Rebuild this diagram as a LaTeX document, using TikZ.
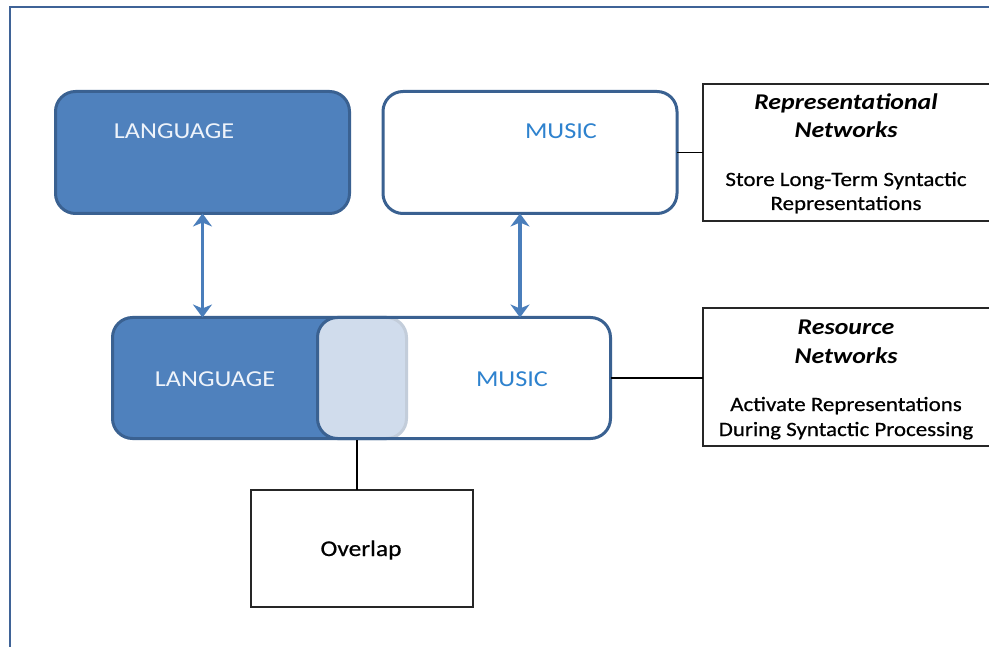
\documentclass[tikz,border=0pt]{standalone}
\usepackage{fontspec}
\setmainfont{Carlito}[FakeStretch=1.15]
\newfontfamily\notefont{Carlito}[FakeStretch=1.13, FakeBold=0.6]
\usetikzlibrary{arrows.meta,calc}

\definecolor{langfill}{HTML}{4F81BD}
\definecolor{boxedge}{HTML}{3A6191}
\definecolor{arrowblue}{HTML}{4A7EBB}
\definecolor{musictext}{HTML}{2E82CE}
\definecolor{langtext}{HTML}{EEF3FA}
\definecolor{overlapfill}{HTML}{D0DCEC}
\definecolor{seamline}{HTML}{C3CDDA}
\definecolor{framecol}{HTML}{3F6397}

\tikzset{
  netbox/.style={draw=boxedge, line width=3pt, rounded corners=20pt,
    minimum width=294pt, minimum height=122pt, inner sep=0pt, outer sep=0pt},
  infobox/.style={draw=black!85, line width=1.3pt, inner sep=0pt, outer sep=0pt,
    anchor=north west},
  netlabel/.style={font=\fontsize{22.8}{27}\selectfont, anchor=base, inner sep=0pt},
  headtext/.style={font=\fontsize{22.5}{26}\selectfont\bfseries\itshape, anchor=base, inner sep=0pt},
  bodytext/.style={font=\notefont\fontsize{20.3}{24}\selectfont, anchor=base, inner sep=0pt},
  linkline/.style={draw=black, line width=1.2pt},
  biarrow/.style={draw=arrowblue, line width=3.6pt,
    {Stealth[length=13pt,width=19pt,inset=4pt]}-{Stealth[length=13pt,width=19pt,inset=4pt]}}
}

\begin{document}
\begin{tikzpicture}[x=1pt,y=-1pt]
\useasboundingbox (0,0) rectangle (989,647);
\clip (0,0) rectangle (989,647);

% outer frame
\draw[framecol, line width=2pt] (10,660) -- (10,7) -- (1000,7);

% representational networks
\node[netbox, fill=langfill] (langA) at (202.5,152.5) {};
\node[netbox, fill=white] (musicA) at (530,152.5) {};
\node[netlabel, text=langtext] (langAtext) at (174,139) {LANGUAGE};
\node[netlabel, text=musictext] (musicAtext) at (561,139) {MUSIC};

% resource networks: two overlapping boxes
\node[netbox, fill=langfill, minimum height=121pt] (langB) at (259.5,378) {};
\node[netbox, fill=white, draw=none, minimum width=293pt, minimum height=121pt] (musicB) at (464,378) {};
\begin{scope}
  \clip[rounded corners=20pt] (langB.south west) rectangle (langB.north east);
  \fill[overlapfill, rounded corners=20pt] (musicB.south west) rectangle (musicB.north east);
\end{scope}
\begin{scope}
  \clip[rounded corners=20pt] (musicB.south west) rectangle (musicB.north east);
  \draw[seamline, line width=3pt, rounded corners=20pt] (langB.south west) rectangle (langB.north east);
\end{scope}
\draw[boxedge, line width=3pt, rounded corners=20pt] (musicB.south west) rectangle (musicB.north east);
\node[netlabel, text=langtext] (langBtext) at (215,387) {LANGUAGE};
\node[netlabel, text=musictext] (musicBtext) at (512,387) {MUSIC};

% links between the levels
\draw[biarrow] (langA.south) -- (langA.south |- langB.north);
\draw[biarrow] ([xshift=-10pt]musicA.south) -- ([xshift=-10pt]musicA.south |- musicB.north);

% explanatory boxes
\node[infobox, minimum width=292pt, minimum height=137pt] (repbox) at (703,84) {};
\node[headtext] (repA) at (846,110) {Representational};
\node[headtext] (repB) at (846,138) {Networks};
\node[bodytext] (repC) at (846,186) {Store Long-Term Syntactic};
\node[bodytext] (repD) at (846,210) {Representations};

\node[infobox, minimum width=292pt, minimum height=138pt] (resbox) at (703,308) {};
\node[headtext] (resA) at (846,335) {Resource};
\node[headtext] (resB) at (846,363) {Networks};
\node[bodytext] (resC) at (846,411) {Activate Representations};
\node[bodytext] (resD) at (846,436) {During Syntactic Processing};

\node[infobox, minimum width=222pt, minimum height=117pt] (ovbox) at (251,490) {};
\node[bodytext, font=\notefont\fontsize{22.5}{26}\selectfont] (ovtext) at (361,556) {Overlap};

\draw[linkline] (musicA.east) -- (musicA.east -| repbox.west);
\draw[linkline] (musicB.east) -- (musicB.east -| resbox.west);
\draw[linkline] (357,440) coordinate (ovtop) -- (ovtop |- ovbox.north);
\end{tikzpicture}
\end{document}
